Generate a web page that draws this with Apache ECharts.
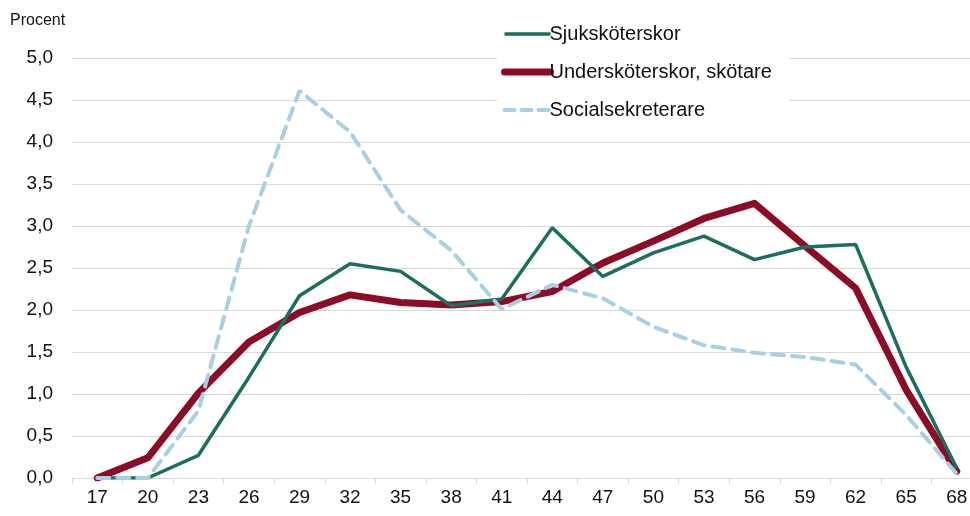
<!DOCTYPE html>
<html>
<head>
<meta charset="utf-8">
<script src="https://cdn.jsdelivr.net/npm/echarts@6/dist/echarts.min.js"></script>
<style>
  html, body { margin: 0; padding: 0; background: #fff; }
  #chart { width: 970px; height: 516px; }
</style>
</head>
<body>
<div id="chart"></div>
<script>
// alder (x-axel)
var ages = ['17','20','23','26','29','32','35','38','41','44','47','50','53','56','59','62','65','68'];

var sjukskoterskor   = [0, 0, 0.27, 1.2, 2.17, 2.55, 2.46, 2.05, 2.13, 2.98, 2.40, 2.68, 2.88, 2.60, 2.75, 2.78, 1.32, 0.12];
var underskoterskor  = [0, 0.24, 1.01, 1.62, 1.97, 2.18, 2.09, 2.06, 2.10, 2.22, 2.56, 2.82, 3.09, 3.27, 2.76, 2.26, 1.05, 0.08];
var socialsekreterare = [0, 0, 0.8, 3.0, 4.61, 4.12, 3.19, 2.71, 2.01, 2.30, 2.14, 1.80, 1.58, 1.49, 1.44, 1.35, 0.75, 0.05];

var chart = echarts.init(document.getElementById('chart'));
var fontFam = '"Liberation Sans", Arial, sans-serif';

var green = '#1b6e60', red = '#8c0b26', blue = '#a9d0e2';
var noSymbol = { opacity: 0, borderWidth: 0 };

chart.setOption({
    animation: false,
    backgroundColor: '#fff',
    // plottet gar lite utanfor hogerkanten, som i originalet
    grid: { left: 72, width: 910, top: 58, height: 420, outerBoundsMode: 'none', containLabel: false },
    graphic: [{
        type: 'text', left: 10, top: 13,
        style: { text: 'Procent', fontSize: 16, fontFamily: fontFam, fill: '#111' }
    }],
    legend: {
        orient: 'vertical',
        left: 497, top: 18,
        backgroundColor: '#fff',
        padding: [6, 18, 8, 4],
        itemGap: 18,
        itemWidth: 46,
        itemHeight: 14,
        textStyle: { fontSize: 20, fontFamily: fontFam, color: '#111', padding: [0, 0, 0, -6] },
        data: [
            { name: 'Sjuksköterskor', itemStyle: noSymbol, lineStyle: { width: 3.5, color: green } },
            { name: 'Undersköterskor, skötare', itemStyle: noSymbol, lineStyle: { width: 7, color: red, cap: 'round' } },
            { name: 'Socialsekreterare', itemStyle: noSymbol, lineStyle: { width: 4, color: blue, type: [10, 7], cap: 'round' } }
        ]
    },
    xAxis: {
        type: 'category',
        data: ages,
        boundaryGap: true,
        axisLine: { lineStyle: { color: '#d9d9d9', width: 1 } },
        axisTick: { show: true, length: 6, lineStyle: { color: '#d9d9d9' } },
        axisLabel: { fontSize: 19, fontFamily: fontFam, color: '#111', margin: 10 }
    },
    yAxis: {
        type: 'value',
        min: 0, max: 5, interval: 0.5,
        axisLine: { show: false },
        axisTick: { show: false },
        splitLine: { lineStyle: { color: '#d9d9d9', width: 1 } },
        axisLabel: {
            fontSize: 19, fontFamily: fontFam, color: '#111', margin: 19,
            formatter: function (v) { return v.toFixed(1).replace('.', ','); }
        }
    },
    series: [
        {
            name: 'Sjuksköterskor', type: 'line', data: sjukskoterskor,
            symbol: 'none', z: 3,
            lineStyle: { color: green, width: 3.5 },
            itemStyle: { color: green }
        },
        {
            name: 'Undersköterskor, skötare', type: 'line', data: underskoterskor,
            symbol: 'none', z: 2,
            lineStyle: { color: red, width: 7, cap: 'round', join: 'round' },
            itemStyle: { color: red }
        },
        {
            name: 'Socialsekreterare', type: 'line', data: socialsekreterare,
            symbol: 'none', z: 4,
            lineStyle: { color: blue, width: 4, type: [12, 8], cap: 'round' },
            itemStyle: { color: blue }
        }
    ]
});
</script>
</body>
</html>
